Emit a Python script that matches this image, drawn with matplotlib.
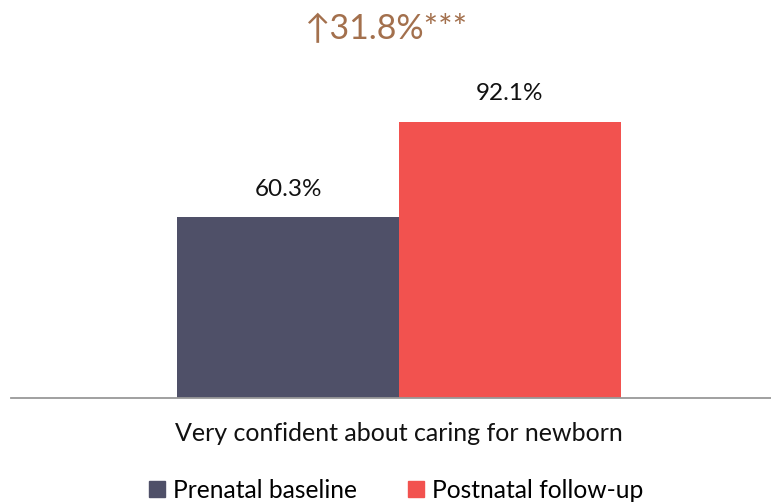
import matplotlib
matplotlib.use("Agg")
import matplotlib.pyplot as plt
from matplotlib.lines import Line2D

plt.rcParams['font.family'] = ['Lato', 'DejaVu Sans']

category = "Very confident about caring for newborn"
series_names = ["Prenatal baseline", "Postnatal follow-up"]
values = [60.3, 92.1]
value_labels = ["60.3%", "92.1%"]
change_label = "↑31.8%***"
colors = ["#4f5068", "#f2524f"]
brown = "#a3704d"

W, H = 771, 504
fig = plt.figure(figsize=(W / 100, H / 100), dpi=100)
ax = fig.add_axes([11 / W, (H - 398) / H, 760 / W, 300 / H])

positions = [-0.5, 0.5]
bars = ax.bar(positions, values, width=1.0, color=colors)
for x, v, lab in zip(positions, values, value_labels):
    ax.annotate(lab, (x, v), xytext=(0, 20), textcoords="offset points",
                ha="center", va="center", fontsize=17.5, color="#111111")

ax.set_xlim(-1.748, 1.676)
ax.set_ylim(0, 100)
ax.set_xticks([0])
ax.set_xticklabels([category], fontsize=18, color="#111111")
ax.tick_params(axis="x", length=0, pad=17)
ax.set_yticks([])
for s in ["top", "right", "left"]:
    ax.spines[s].set_visible(False)
ax.spines["bottom"].set_color("#999999")
ax.spines["bottom"].set_linewidth(1.3)

fig.text(386.5 / W, 1 - 29 / H, change_label, ha="center", va="center",
         fontsize=24.5, color=brown)

handles = [Line2D([], [], marker="s", linestyle="none", markersize=11.5,
                  markerfacecolor=c, markeredgecolor=c) for c in colors]
fig.legend(handles, series_names, loc="center", ncol=2,
           bbox_to_anchor=(396 / W, 14 / H), frameon=False, fontsize=17.7,
           handlelength=0.65, handletextpad=0.3, columnspacing=2.1,
           borderpad=0, borderaxespad=0)

fig.savefig("out.png", dpi=100)
